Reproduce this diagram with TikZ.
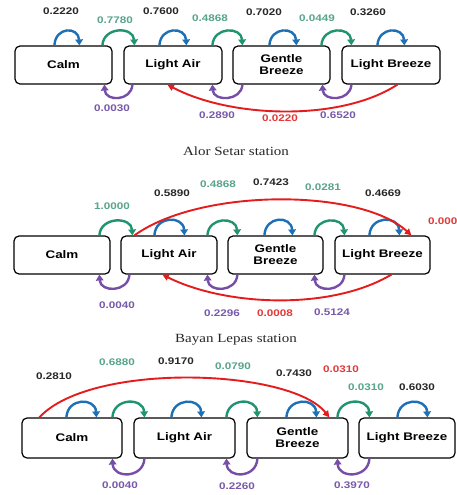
\documentclass[tikz,border=0pt]{standalone}
\usepackage{fontspec}
\usetikzlibrary{arrows.meta}
\newfontfamily\sansb[FakeStretch=1.22]{Liberation Sans}
\newfontfamily\serift[FakeStretch=1.2]{Liberation Serif}
\definecolor{cblue}{RGB}{30,112,182}
\definecolor{cgreen}{RGB}{32,148,112}
\definecolor{cpurple}{RGB}{118,78,168}
\definecolor{cred}{RGB}{228,28,30}
\definecolor{lgreen}{RGB}{88,164,140}
\definecolor{lpurple}{RGB}{120,90,170}
\definecolor{lred}{RGB}{226,58,58}
\definecolor{lblack}{RGB}{40,40,40}
\newcommand\arcup[6]{\draw[#1] ([xshift=#3pt]#2.north west) .. controls +(1,-#6) and +(-1,-#6) .. ([xshift=#5pt]#4.north west);}
\newcommand\arcdn[6]{\draw[#1] ([xshift=#3pt]#2.south west) .. controls +(-1,#6) and +(1,#6) .. ([xshift=#5pt]#4.south west);}
\begin{document}
\begin{tikzpicture}[x=1pt,y=-1pt,
  bx/.style={draw=black, line width=1.2pt, rounded corners=5pt, minimum height=38pt,
    font=\sansb\bfseries\fontsize{11}{12}\selectfont, align=center, inner sep=0pt},
  arr/.style={line width=2.4pt, -{Triangle[length=6pt,width=7.5pt]}},
  bl/.style={arr, draw=cblue},
  gr/.style={arr, draw=cgreen},
  pu/.style={arr, draw=cpurple},
  rd/.style={line width=1.9pt, draw=cred, -{Triangle[length=6.5pt,width=6.5pt]}},
  lab/.style={font=\sansb\bfseries\fontsize{9.6}{10}\selectfont, inner sep=0pt},
  lk/.style={lab, text=lblack},
  lg/.style={lab, text=lgreen},
  lp/.style={lab, text=lpurple},
  lr/.style={lab, text=lred},
  ttl/.style={font=\serift\fontsize{12.5}{14}\selectfont, inner sep=0pt, text=black!85}
]
\useasboundingbox (0,0) rectangle (456,495);
\fill[white] (0,0) rectangle (456,495);

% ---------------- Diagram 1 ----------------
\node[bx, minimum width=97pt] (c1) at (63.5,65) {Calm};
\node[bx, minimum width=98pt] (a1) at (173,65) {Light Air};
\node[bx, minimum width=97pt] (g1) at (281.5,65) {Gentle\\Breeze};
\node[bx, minimum width=98pt] (b1) at (391,65) {Light Breeze};

\arcup{bl}{c1}{40}{c1}{65}{19}
\arcup{bl}{a1}{36}{a1}{63}{19}
\arcup{bl}{g1}{37}{g1}{64}{19}
\arcup{bl}{b1}{36}{b1}{63}{19}
\arcup{gr}{c1}{88}{a1}{11}{19}
\arcup{gr}{a1}{89}{g1}{10}{19}
\arcup{gr}{g1}{89}{b1}{10}{19}
\arcdn{pu}{a1}{9}{c1}{90}{17}
\arcdn{pu}{g1}{10}{a1}{89}{17}
\arcdn{pu}{b1}{10}{g1}{90}{17}
\draw[rd] ([xshift=56pt]b1.south west) .. controls (340,122) and (230,118) .. ([xshift=44pt]a1.south west);

\node[lk] (t1a) at (61,11) {0.2220};
\node[lg] (t1b) at (115,20) {0.7780};
\node[lk] (t1c) at (161,11) {0.7600};
\node[lg] (t1d) at (210,18) {0.4868};
\node[lk] (t1e) at (264,12) {0.7020};
\node[lg] (t1f) at (317,18) {0.0449};
\node[lk] (t1g) at (368,12) {0.3260};
\node[lp] (t1h) at (112,108) {0.0030};
\node[lp] (t1i) at (217,115) {0.2890};
\node[lr] (t1j) at (280,118) {0.0220};
\node[lp] (t1k) at (338,115) {0.6520};

\node[ttl] (title1) at (236,151) {Alor Setar station};

% ---------------- Diagram 2 ----------------
\node[bx, minimum width=96pt] (c2) at (62,255) {Calm};
\node[bx, minimum width=96pt] (a2) at (169,255) {Light Air};
\node[bx, minimum width=95pt] (g2) at (275.5,255) {Gentle\\Breeze};
\node[bx, minimum width=95pt] (b2) at (382.5,255) {Light Breeze};

\arcup{gr}{c2}{86}{a2}{12}{19}
\arcup{bl}{a2}{34}{a2}{64}{20}
\arcup{gr}{a2}{87}{g2}{10}{19}
\arcup{bl}{g2}{37}{g2}{65}{20}
\arcup{gr}{g2}{87}{b2}{10}{19}
\arcup{bl}{b2}{35}{b2}{65}{20}
\arcdn{pu}{a2}{9}{c2}{86}{18}
\arcdn{pu}{g2}{10}{a2}{87}{18}
\arcdn{pu}{b2}{10}{g2}{87}{18}
\draw[rd] ([xshift=14pt]a2.north west) .. controls (200,188) and (360,188) .. ([xshift=77pt]b2.north west);
\draw[rd] ([xshift=57pt]b2.south west) .. controls (330,311) and (225,306) .. ([xshift=42pt]a2.south west);

\node[lg] (t2a) at (112,206) {1.0000};
\node[lk] (t2b) at (172,193) {0.5890};
\node[lg] (t2c) at (218,184) {0.4868};
\node[lk] (t2d) at (271,182) {0.7423};
\node[lg] (t2e) at (323,187) {0.0281};
\node[lk] (t2f) at (383,193) {0.4669};
\node[lr, anchor=west] (t2g) at (428,221) {0.000};
\node[lp] (t2h) at (117,305) {0.0040};
\node[lp] (t2i) at (222,313) {0.2296};
\node[lr] (t2j) at (275,313) {0.0008};
\node[lp] (t2k) at (332,312) {0.5124};

\node[ttl] (title2) at (236,339.5) {Bayan Lepas station};

% ---------------- Diagram 3 ----------------
\node[bx, minimum width=100pt, minimum height=40pt] (c3) at (72,438) {Calm};
\node[bx, minimum width=101pt, minimum height=40pt] (a3) at (184.5,438) {Light Air};
\node[bx, minimum width=101pt, minimum height=40pt] (g3) at (297.5,438) {Gentle\\Breeze};
\node[bx, minimum width=96pt, minimum height=40pt] (b3) at (407,438) {Light Breeze};

\arcup{bl}{c3}{45}{c3}{75}{20}
\arcup{gr}{c3}{91}{a3}{11}{20}
\arcup{bl}{a3}{38}{a3}{68}{20}
\arcup{gr}{a3}{93}{g3}{11}{20}
\arcup{bl}{g3}{40}{g3}{70}{20}
\arcup{gr}{g3}{91}{b3}{11}{20}
\arcup{bl}{b3}{39}{b3}{69}{20}
\arcdn{pu}{a3}{11}{c3}{91}{20}
\arcdn{pu}{g3}{11}{a3}{93}{20}
\arcdn{pu}{b3}{11}{g3}{91}{20}
\draw[rd] ([xshift=18pt]c3.north west) .. controls (90,362) and (290,368) .. ([xshift=83pt]g3.north west);

\node[lk] (t3a) at (54,376) {0.2810};
\node[lg] (t3b) at (117,362) {0.6880};
\node[lk] (t3c) at (176,361) {0.9170};
\node[lg] (t3d) at (233,366) {0.0790};
\node[lk] (t3e) at (294,373) {0.7430};
\node[lr] (t3f) at (341,369) {0.0310};
\node[lg] (t3g) at (366,387) {0.0310};
\node[lk] (t3h) at (417,387) {0.6030};
\node[lp] (t3i) at (120,485) {0.0040};
\node[lp] (t3j) at (237,486) {0.2260};
\node[lp] (t3k) at (352,485) {0.3970};
\end{tikzpicture}
\end{document}
